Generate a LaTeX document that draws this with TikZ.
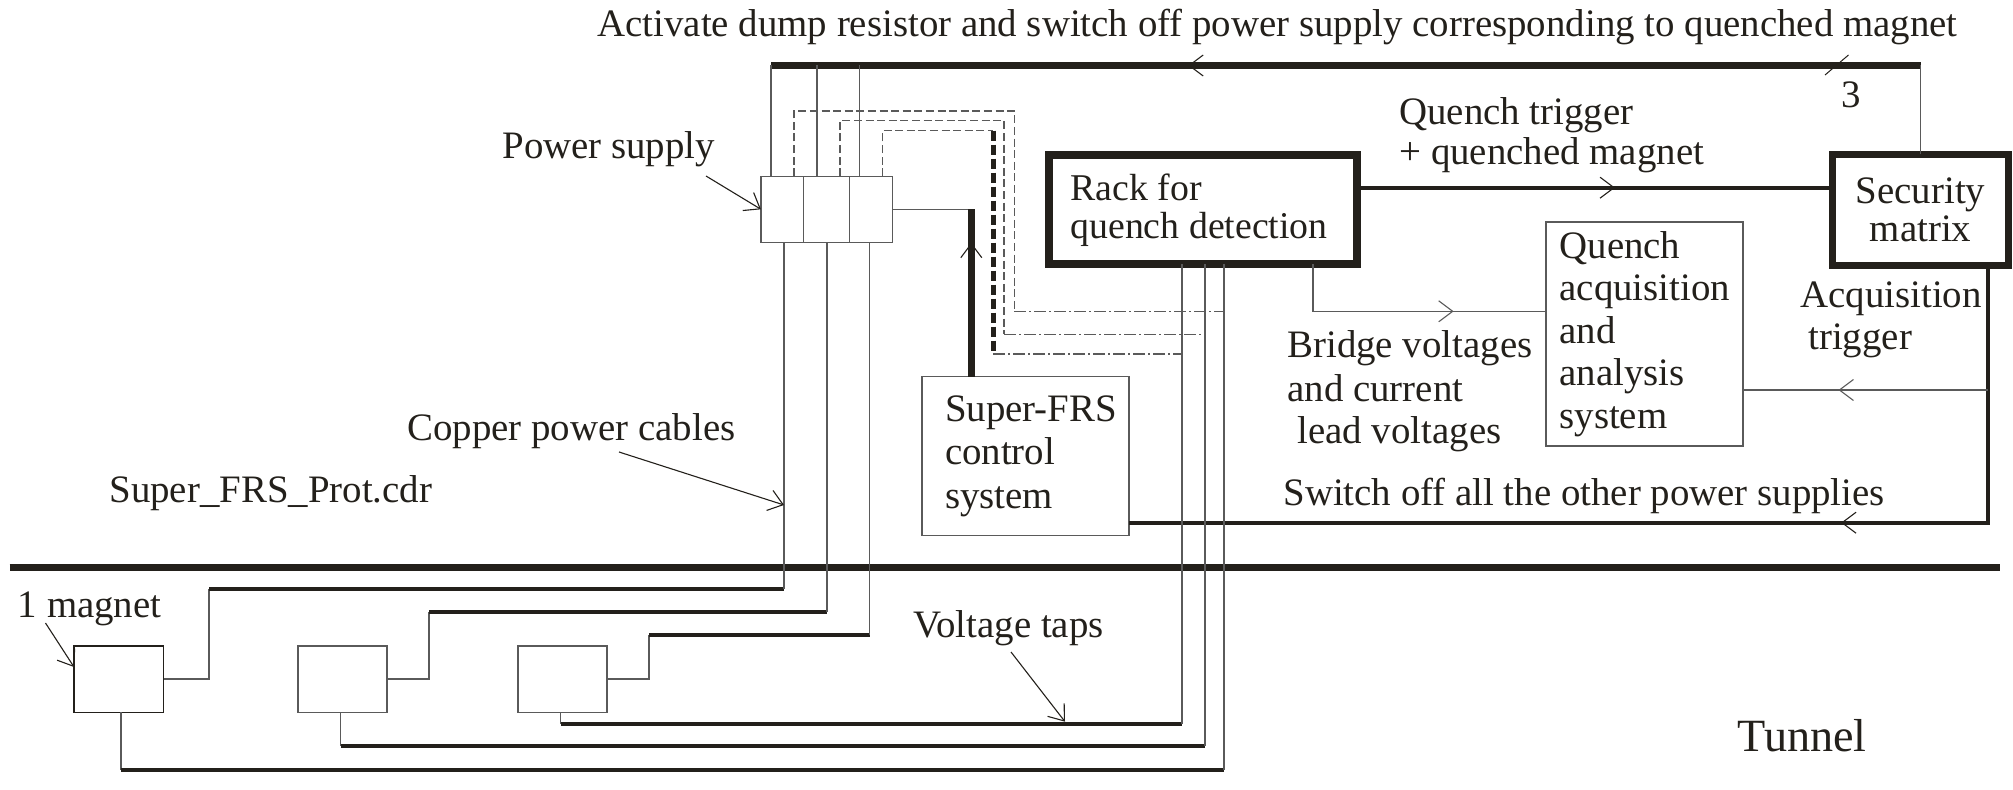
\documentclass[tikz,border=0pt]{standalone}
\usepackage{fontspec}
\setmainfont{Liberation Serif}
\usetikzlibrary{arrows.meta,decorations.markings}
\definecolor{inkdark}{HTML}{23201B}
\definecolor{inkgray}{HTML}{5A5A5A}
\tikzset{
  openbarb/.tip={Straight Barb[length=7pt,width=10.5pt,line width=.55pt]},
  thinline/.style={draw=inkgray,line width=.7pt},
  midline/.style={draw=inkdark,line width=2pt},
  barline/.style={draw=inkdark,line width=3.5pt},
  leader/.style={draw=inkdark,line width=.55pt,-{openbarb}},
  dashline/.style={draw=inkgray,line width=.6pt,dash pattern=on 4pt off 1.8pt},
  chainline/.style={draw=inkgray,line width=.6pt,dash pattern=on 6pt off 1.5pt on 1pt off 1.5pt},
  midarrow/.style={postaction={decorate,decoration={markings,mark=at position #1 with {\arrow{openbarb}}}}},
  box/.style={draw=inkgray,line width=.65pt,fill=white,outer sep=0pt,inner ysep=0pt,text=inkdark},
  heavybox/.style={draw=inkdark,line width=4pt,fill=white,outer sep=0pt,inner ysep=0pt,text=inkdark},
  label/.style={anchor=base west,inner sep=0pt,text=inkdark},
  every node/.style={font=\fontsize{19.43}{21}\selectfont},
}
\begin{document}
\begin{tikzpicture}[x=0.5pt,y=-0.5pt]
    \useasboundingbox (0,0) rectangle (2013,790);
    % Named points of the busbars
    \coordinate (dumpl) at (771,65.5);
    \coordinate (dumpr) at (1920.5,65.5);
    \coordinate (tapb) at (817,65.5);
    \coordinate (tapc) at (859.7,65.5);
    \coordinate (qty) at (0,187.7);
    \coordinate (brg) at (1312.8,311.3);
    \coordinate (acqy) at (0,390);
    \coordinate (secr) at (1988,522.7);
    \coordinate (psout) at (971.3,209.3);

    % Power supply, three cells
    \node[box,minimum width=21.35pt,minimum height=33pt,inner xsep=0pt] (psa) at (782.3,209.3) {};
    \node[box,minimum width=23pt,minimum height=33pt,inner xsep=0pt] (psb) at (826.7,209.3) {};
    \node[box,minimum width=21.5pt,minimum height=33pt,inner xsep=0pt] (psc) at (871.2,209.3) {};

    % Main boxes
    \node[heavybox,text width=132pt,inner xsep=11pt,minimum height=54.5pt,align=flush left,
      font=\fontsize{18.9}{19.2}\selectfont] (rack) at (1202.5,210) {Rack for\\\mbox{quench detection}};
    \node[heavybox,line width=3.5pt,text width=88pt,inner xsep=0pt,minimum height=55.5pt,align=center,
      font=\fontsize{19.43}{19.2}\selectfont] (security) at (1920.5,210) {Security\\matrix};
    \node[box,text width=85pt,inner xsep=6.75pt,minimum height=111.9pt,align=flush left,
      font=\fontsize{19.43}{21.25}\selectfont] (acq) at (1644.5,334) {Quench\\acquisition\\and\\analysis\\system};
    \node[box,text width=80.5pt,inner xsep=11.5pt,minimum height=79.5pt,align=flush left,
      font=\fontsize{19.43}{21.9}\selectfont] (frs) at (1025.5,456.2) {\mbox{Super-FRS}\\control\\system};

    % Magnets
    \node[box,draw=inkdark,minimum width=44.75pt,minimum height=33.15pt,inner xsep=0pt] (mga) at (118.75,679.15) {};
    \node[box,minimum width=44.5pt,minimum height=33.15pt,inner xsep=0pt] (mgb) at (342.5,679.15) {};
    \node[box,minimum width=44.5pt,minimum height=33.15pt,inner xsep=0pt] (mgc) at (562.5,679.15) {};

    % Tunnel wall
    \coordinate (walla) at (9.6,567.5);
    \coordinate (wallb) at (2000,567.5);
    \draw[barline] (walla) -- (wallb);

    % Dump resistor bus
    \draw[barline,midarrow=0.637] (dumpr) -- (dumpl);
    \draw[thinline] (security.north) -- (dumpr);
    \draw[thinline] (dumpl) -- (dumpl |- psa.north);
    \draw[thinline] (tapb) -- (tapb |- psb.north);
    \draw[thinline] (tapc) -- (tapc |- psc.north);
    \coordinate (ticka) at (1825,75);
    \coordinate (tickb) at (1848.5,55);
    \draw[draw=inkdark,line width=.5pt] (ticka) -- (tickb);

    % Signals to the power supply
    \draw[dashline] (794,176.3) |- (1014.3,111) -- (1014.3,311.3);
    \draw[chainline] (1014.3,311.3) -- (1224,311.3);
    \draw[dashline] (840,176.3) |- (1004,120.7) -- (1004,334.3);
    \draw[chainline] (1004,334.3) -- (1204.3,334.3);
    \draw[dashline] (882.7,176.3) |- (993,130.7);
    \draw[draw=inkdark,line width=2.5pt,dash pattern=on 5pt off 2pt] (993,130.7) -- (993,354);
    \draw[chainline] (993,354) -- (1181.7,354);

    % Control system to power supply
    \draw[thinline] (psc.east) -- (psout);
    \draw[barline,midarrow=0.8] (frs.north -| psout) -- (psout);

    % Rack and security matrix
    \draw[midline,midarrow=0.543] (rack.east |- qty) -- (security.west |- qty);
    \draw[thinline,midarrow=0.67] (brg |- rack.south) -- (brg) -- (brg -| acq.west);
    \draw[midline,midarrow=0.362] (secr |- security.south) -- (secr) -- (secr -| frs.east);
    \draw[thinline,midarrow=0.61] (secr |- acqy) -- (acq.east |- acqy);

    % Magnet to power supply cables
    \coordinate (busa) at (209,589);
    \coordinate (busb) at (429,612);
    \coordinate (busc) at (649,635);
    \coordinate (cba) at (784,589);
    \coordinate (cbb) at (827,612);
    \coordinate (cbc) at (869.7,635);
    \draw[thinline] (mga.east) -| (busa);
    \draw[midline] (busa) -- (cba);
    \draw[thinline] (cba) -- (cba |- psa.south);
    \draw[thinline] (mgb.east) -| (busb);
    \draw[midline] (busb) -- (cbb);
    \draw[thinline] (cbb) -- (cbb |- psb.south);
    \draw[thinline] (mgc.east) -| (busc);
    \draw[midline] (busc) -- (cbc);
    \draw[thinline] (cbc) -- (cbc |- psc.south);

    % Voltage taps
    \coordinate (vta) at (1224,769.7);
    \coordinate (vtb) at (1205,746);
    \coordinate (vtc) at (1182,723.7);
    \coordinate (mta) at (121,769.7);
    \coordinate (mtb) at (340.5,746);
    \coordinate (mtc) at (560.6,723.7);
    \draw[thinline] (mta |- mga.south) -- (mta);
    \draw[midline] (mta) -- (vta);
    \draw[thinline] (vta) -- (vta |- rack.south);
    \draw[thinline] (mtb |- mgb.south) -- (mtb);
    \draw[midline] (mtb) -- (vtb);
    \draw[thinline] (vtb) -- (vtb |- rack.south);
    \draw[thinline] (mtc |- mgc.south) -- (mtc);
    \draw[midline] (mtc) -- (vtc);
    \draw[thinline] (vtc) -- (vtc |- rack.south);

    % Labels
    \node[label] (ltop) at (597,36.7) {Activate dump resistor and switch off power supply corresponding to quenched magnet};
    \node[label] (lthree) at (1841,108) {3};
    \node[label] (lpower) at (502,159) {Power supply};
    \node[label] (ltriga) at (1399,125) {Quench trigger};
    \node[label] (ltrigb) at (1399,165) {+ quenched magnet};
    \node[label] (lbra) at (1287,358) {Bridge voltages};
    \node[label] (lbrb) at (1287,402) {and current};
    \node[label] (lbrc) at (1297,443.7) {lead voltages};
    \node[label] (lacqa) at (1800,308) {Acquisition};
    \node[label] (lacqb) at (1808,350) {trigger};
    \node[label] (lcop) at (407,441) {Copper power cables};
    \node[label] (lfile) at (109,503) {Super\_FRS\_Prot.cdr};
    \node[label] (lswitch) at (1283,506) {Switch off all the other power supplies};
    \node[label] (lmag) at (17.5,617.7) {1 magnet};
    \node[label] (lvolt) at (913,638) {Voltage taps};
    \node[label,font=\fontsize{23.1}{24}\selectfont] (ltunnel) at (1737,751) {Tunnel};

    % Leader arrows
    \coordinate (lda) at (706,176);
    \coordinate (ldb) at (619,452);
    \coordinate (ldc) at (784,505);
    \coordinate (ldd) at (45.5,623);
    \coordinate (lde) at (74,667);
    \coordinate (ldf) at (1011,652);
    \coordinate (ldg) at (1065,721.7);
    \draw[leader] (lda) -- (psa.west);
    \draw[leader] (ldb) -- (ldc);
    \draw[leader] (ldd) -- (lde);
    \draw[leader] (ldf) -- (ldg);
  \end{tikzpicture}
\end{document}
